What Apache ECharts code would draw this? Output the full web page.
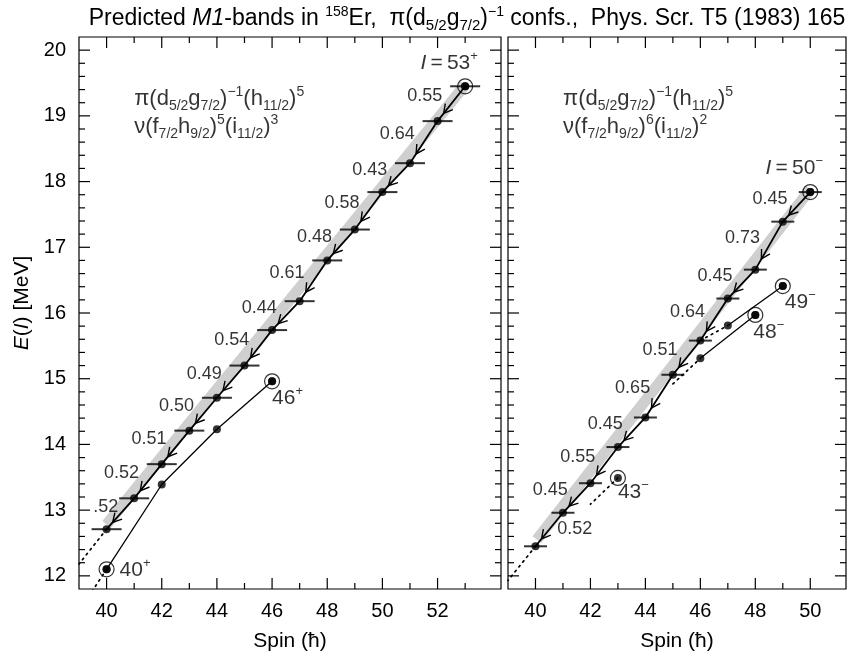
<!DOCTYPE html>
<html>
<head>
<meta charset="utf-8">
<script src="https://cdn.jsdelivr.net/npm/echarts@6/dist/echarts.min.js"></script>
<style>
html, body { margin: 0; padding: 0; background: #fff; }
#main { width: 853px; height: 660px; }
</style>
</head>
<body>
<div id="main"></div>
<script>
// ---- left panel: positive parity band ----
var spinL = [40, 41, 42, 43, 44, 45, 46, 47, 48, 49, 50, 51, 52, 53];
var energyL = [12.71, 13.18, 13.70, 14.21, 14.71, 15.20, 15.74, 16.18, 16.80, 17.27, 17.84, 18.28, 18.92, 19.45];
var ratioL = ['.52', '0.52', '0.51', '0.50', '0.49', '0.54', '0.44', '0.61', '0.48', '0.58', '0.43', '0.64', '0.55'];
var sideSpinL = [40, 42, 44, 46];
var sideEnergyL = [12.10, 13.39, 14.23, 14.96];
var bandL = [[40, 12.78], [53, 19.47]];
var dottedL = [[[40, 12.71], [39, 12.18]], [[40, 12.10], [39.5, 11.78]]];
var circlesL = [[53, 19.45], [46, 14.96], [40, 12.10]];
var tagsL = ['{it|I}{n|\u2009=\u200953}{sp|+}', '{n|46}{sp|+}', '{n|40}{sp|+}'];

// ---- right panel: negative parity band ----
var spinR = [40, 41, 42, 43, 44, 45, 46, 47, 48, 49, 50];
var energyR = [12.45, 12.96, 13.41, 13.96, 14.41, 15.06, 15.58, 16.22, 16.66, 17.39, 17.84];
var ratioR = ['0.52', '0.45', '0.55', '0.45', '0.65', '0.51', '0.64', '0.45', '0.73', '0.45'];
var side49 = [[47, 15.81], [49, 16.41]];
var side48 = [[46, 15.31], [48, 15.97]];
var bandR = [[40.05, 12.55], [50, 17.88]];
var dottedR = [[[40, 12.45], [39, 11.93]], [[43, 13.49], [42, 13.09]], [[46, 15.58], [47, 15.81]], [[45, 14.92], [46, 15.31]]];
var circlesR = [[50, 17.84], [49, 16.41], [48, 15.97], [43, 13.49]];
var tagsR = ['{it|I}{n|\u2009=\u200950}{sp|\u2212}', '{n|49}{sp|\u2212}', '{n|48}{sp|\u2212}', '{n|43}{sp|\u2212}'];

// ---- ticks ----
var xLabelsL = [40, 42, 44, 46, 48, 50, 52];
var xMinorL = [41, 43, 45, 47, 49, 51, 53];
var xLabelsR = [40, 42, 44, 46, 48, 50];
var xMinorR = [41, 43, 45, 47, 49];
var yLabels = [12, 13, 14, 15, 16, 17, 18, 19, 20];

var confL = '{m|\u03c0(d}{s|5/2}{m|g}{s|7/2}{m|)}{p|\u22121}{m|(h}{s|11/2}{m|)}{p|5}\n' +
            '{m|\u03bd(f}{s|7/2}{m|h}{s|9/2}{m|)}{p|5}{m|(i}{s|11/2}{m|)}{p|3}';
var confR = '{m|\u03c0(d}{s|5/2}{m|g}{s|7/2}{m|)}{p|\u22121}{m|(h}{s|11/2}{m|)}{p|5}\n' +
            '{m|\u03bd(f}{s|7/2}{m|h}{s|9/2}{m|)}{p|6}{m|(i}{s|11/2}{m|)}{p|2}';

var FONT = '"Liberation Sans", Arial, Helvetica, sans-serif';

function pts(xs, ys) {
    return xs.map(function (x, i) { return [x, ys[i]]; });
}
function segs(xs, ys) {
    var out = [];
    for (var i = 1; i < xs.length; i++) out.push([xs[i], ys[i], xs[i - 1], ys[i - 1]]);
    return out;
}
function mids(xs, ys) {
    var out = [];
    for (var i = 0; i < xs.length - 1; i++) out.push([(xs[i] + xs[i + 1]) / 2, (ys[i] + ys[i + 1]) / 2]);
    return out;
}
function isInt(v) { return Math.abs(v - Math.round(v)) < 1e-6; }

var tagRich = {
    n: { fontSize: 21, fontFamily: FONT, color: '#000', lineHeight: 26 },
    it: { fontSize: 21, fontFamily: FONT, fontStyle: 'italic', color: '#000', lineHeight: 26 },
    sp: { fontSize: 13, fontFamily: FONT, color: '#000', lineHeight: 16, verticalAlign: 'top' }
};
var confRich = {
    m: { fontSize: 22, fontFamily: FONT, color: '#000', lineHeight: 28 },
    s: { fontSize: 14, fontFamily: FONT, color: '#000', lineHeight: 20, verticalAlign: 'bottom' },
    p: { fontSize: 14, fontFamily: FONT, color: '#000', lineHeight: 12, verticalAlign: 'top' }
};

function xAxis(g, min, max, labels) {
    return {
        type: 'value', gridIndex: g, min: min, max: max, interval: 1,
        axisLine: { show: false }, axisTick: { show: false }, splitLine: { show: false },
        axisLabel: {
            margin: 12, color: '#000', fontSize: 20, fontFamily: FONT,
            formatter: function (v) { return labels.indexOf(Math.round(v)) >= 0 && isInt(v) ? String(Math.round(v)) : ''; }
        },
        name: 'Spin (\u0127)', nameLocation: 'middle', nameGap: 42,
        nameTextStyle: { color: '#000', fontSize: 21, fontFamily: FONT }
    };
}
function yAxis(g, withLabels) {
    var ax = {
        type: 'value', gridIndex: g, min: 11.8, max: 20.2, interval: 0.2,
        axisLine: { show: false }, axisTick: { show: false }, splitLine: { show: false },
        axisLabel: {
            show: withLabels, margin: 13, color: '#000', fontSize: 20, fontFamily: FONT,
            formatter: function (v) { return isInt(v) && yLabels.indexOf(Math.round(v)) >= 0 ? String(Math.round(v)) : ''; }
        }
    };
    if (withLabels) {
        ax.name = '{i|E}{n|(}{i|I}{n|) [MeV]}';
        ax.nameLocation = 'middle';
        ax.nameGap = 46;
        ax.nameTextStyle = {
            color: '#000', fontSize: 21, fontFamily: FONT, padding: [0, 0, 0, 20],
            rich: {
                i: { fontSize: 21, fontFamily: FONT, fontStyle: 'italic', color: '#000' },
                n: { fontSize: 21, fontFamily: FONT, color: '#000' }
            }
        };
    }
    return ax;
}

// tick marks on all four sides of a panel, major 11px, minor 6px
function tickSeries(g, xMajor, xMinor) {
    var data = [];
    xMajor.forEach(function (v) { data.push([v, 1]); });
    xMinor.forEach(function (v) { data.push([v, 0]); });
    for (var k = 1; k < 42; k++) {
        var v = Math.round((11.8 + 0.2 * k) * 10) / 10;
        data.push([v, isInt(v) ? 3 : 2]);
    }
    return {
        type: 'custom', xAxisIndex: g, yAxisIndex: g, silent: true, z: 10,
        encode: { x: 0, y: 1 },
        data: data,
        renderItem: function (params, api) {
            var cs = params.coordSys;
            var v = api.value(0), kind = api.value(1);
            var len = (kind === 1 || kind === 3) ? 11 : 6;
            var ls;
            if (kind < 2) {
                var px = api.coord([v, 16])[0];
                ls = [[px, cs.y + cs.height, px, cs.y + cs.height - len], [px, cs.y, px, cs.y + len]];
            } else {
                var py = api.coord([45, v])[1];
                ls = [[cs.x, py, cs.x + len, py], [cs.x + cs.width, py, cs.x + cs.width - len, py]];
            }
            return {
                type: 'group',
                children: ls.map(function (l) {
                    return { type: 'line', shape: { x1: l[0], y1: l[1], x2: l[2], y2: l[3] }, style: { stroke: '#000', lineWidth: 1.2 } };
                })
            };
        }
    };
}

function arrowSeries(g, data) {
    return {
        type: 'custom', xAxisIndex: g, yAxisIndex: g, silent: true, z: 4,
        encode: { x: [0, 2], y: [1, 3] },
        data: data,
        renderItem: function (params, api) {
            var p1 = api.coord([api.value(0), api.value(1)]);
            var p2 = api.coord([api.value(2), api.value(3)]);
            var t = 0.78;
            var tip = [p1[0] + (p2[0] - p1[0]) * t, p1[1] + (p2[1] - p1[1]) * t];
            var ang = Math.atan2(p2[1] - p1[1], p2[0] - p1[0]);
            var len = 10, spread = 0.5;
            var a = [tip[0] - len * Math.cos(ang - spread), tip[1] - len * Math.sin(ang - spread)];
            var b = [tip[0] - len * Math.cos(ang + spread), tip[1] - len * Math.sin(ang + spread)];
            return { type: 'polyline', shape: { points: [a, tip, b] }, style: { stroke: '#000', fill: null, lineWidth: 1.4 } };
        }
    };
}

function lineSeries(g, data, width, type, color, z) {
    return {
        type: 'line', xAxisIndex: g, yAxisIndex: g, data: data, symbol: 'none', silent: true, z: z || 3,
        clip: true,
        lineStyle: { color: color || '#000', width: width, type: type || 'solid', cap: type ? 'round' : 'butt' }
    };
}

function dotSeries(g, data, size) {
    return {
        type: 'scatter', xAxisIndex: g, yAxisIndex: g, data: data, symbol: 'circle', symbolSize: size,
        silent: true, z: 6, itemStyle: { color: '#000' }
    };
}

function panelSeries(g, o) {
    var list = [];
    list.push(lineSeries(g, o.band, 11, null, '#cfcfcf', 1));
    list.push(lineSeries(g, pts(o.spins, o.energies), 1.8));
    o.sides.forEach(function (s) { list.push(lineSeries(g, s, 1.3)); });
    o.dotted.forEach(function (s) { list.push(lineSeries(g, s, 1.7, [1.7, 4.5])); });
    list.push(arrowSeries(g, segs(o.spins, o.energies)));
    list.push({
        type: 'scatter', xAxisIndex: g, yAxisIndex: g, data: pts(o.spins, o.energies),
        symbol: 'rect', symbolSize: [o.barW, 2], silent: true, z: 5, itemStyle: { color: '#000' }
    });
    var allDots = pts(o.spins, o.energies);
    o.sides.forEach(function (s) { allDots = allDots.concat(s); });
    o.circles.forEach(function (c) { allDots.push(c); });
    list.push(dotSeries(g, allDots, 8));
    list.push({
        type: 'scatter', xAxisIndex: g, yAxisIndex: g, data: o.circles, symbol: 'circle', symbolSize: 15,
        silent: true, z: 6, itemStyle: { color: 'rgba(0,0,0,0)', borderColor: '#000', borderWidth: 1.2 }
    });
    // ratio labels at segment midpoints
    var m = mids(o.spins, o.energies);
    list.push({
        type: 'scatter', xAxisIndex: g, yAxisIndex: g, symbolSize: 0, silent: true, z: 7,
        data: m.map(function (p, i) {
            var fix = o.ratioFix[i];
            return {
                value: p,
                label: {
                    formatter: function () { return o.ratios[i]; },
                    align: fix ? fix[2] : 'right',
                    offset: fix ? [fix[0], fix[1]] : [-9, -8]
                }
            };
        }),
        label: { show: true, position: 'inside', verticalAlign: 'middle', color: '#000', fontSize: 18, fontFamily: FONT }
    });
    // level tags next to the circled states
    list.push({
        type: 'scatter', xAxisIndex: g, yAxisIndex: g, symbolSize: 0, silent: true, z: 7,
        data: o.circles.map(function (c, i) {
            var off = o.tagOffsets[i];
            return {
                value: c,
                label: {
                    formatter: function () { return o.tags[i]; },
                    align: off[2], offset: [off[0], off[1]]
                }
            };
        }),
        label: { show: true, position: 'inside', verticalAlign: 'middle', rich: tagRich }
    });
    // configuration text
    list.push({
        type: 'scatter', xAxisIndex: g, yAxisIndex: g, symbolSize: 0, silent: true, z: 7,
        data: [{ value: o.confAt, label: { formatter: function () { return o.conf; } } }],
        label: { show: true, position: 'inside', align: 'left', verticalAlign: 'middle', rich: confRich }
    });
    list.push(tickSeries(g, o.xMajor, o.xMinor));
    return list;
}

var seriesL = panelSeries(0, {
    spins: spinL, energies: energyL, ratios: ratioL, band: bandL,
    sides: [pts(sideSpinL, sideEnergyL)], dotted: dottedL, circles: circlesL, tags: tagsL,
    tagOffsets: [[-16, -23, 'center'], [0, 17, 'left'], [13, 1, 'left']],
    ratioFix: { 0: [-2, -7, 'right'] },
    barW: 30, conf: confL, confAt: [41, 19.04], xMajor: xLabelsL, xMinor: xMinorL
});
var seriesR = panelSeries(1, {
    spins: spinR, energies: energyR, ratios: ratioR, band: bandR,
    sides: [side49, side48], dotted: dottedR, circles: circlesR, tags: tagsR,
    tagOffsets: [[-16, -24, 'center'], [2, 16, 'left'], [-2, 17, 'left'], [0, 14, 'left']],
    ratioFix: { 0: [8, 0, 'left'] },
    barW: 23, conf: confR, confAt: [41, 19.04], xMajor: xLabelsR, xMinor: xMinorR
});

var option = {
    animation: false,
    backgroundColor: '#fff',
    title: {
        text: '{t|Predicted }{ti|M1}{t|-bands in }{p|158}{t|Er,  \u03c0(d}{s|5/2}{t|g}{s|7/2}{t|)}{p|\u22121}{t| confs.,  Phys. Scr. T5 (1983) 165}',
        left: 462, top: 0, textAlign: 'center',
        textStyle: {
            fontWeight: 'normal', fontSize: 23, fontFamily: FONT, color: '#000',
            rich: {
                t: { fontSize: 23, fontFamily: FONT, color: '#000', lineHeight: 28 },
                ti: { fontSize: 23, fontFamily: FONT, fontStyle: 'italic', color: '#000', lineHeight: 28 },
                p: { fontSize: 14, fontFamily: FONT, color: '#000', lineHeight: 14, verticalAlign: 'top' },
                s: { fontSize: 15, fontFamily: FONT, color: '#000', lineHeight: 20, verticalAlign: 'bottom' }
            }
        }
    },
    grid: [
        { left: 79, top: 37, width: 422, height: 552, show: true, borderColor: '#000', borderWidth: 1.2, backgroundColor: 'transparent' },
        { left: 508, top: 37, width: 338, height: 552, show: true, borderColor: '#000', borderWidth: 1.2, backgroundColor: 'transparent' }
    ],
    xAxis: [xAxis(0, 39, 54.3, xLabelsL), xAxis(1, 39, 51.3, xLabelsR)],
    yAxis: [yAxis(0, true), yAxis(1, false)],
    series: seriesL.concat(seriesR)
};

echarts.init(document.getElementById('main')).setOption(option);
</script>
</body>
</html>
